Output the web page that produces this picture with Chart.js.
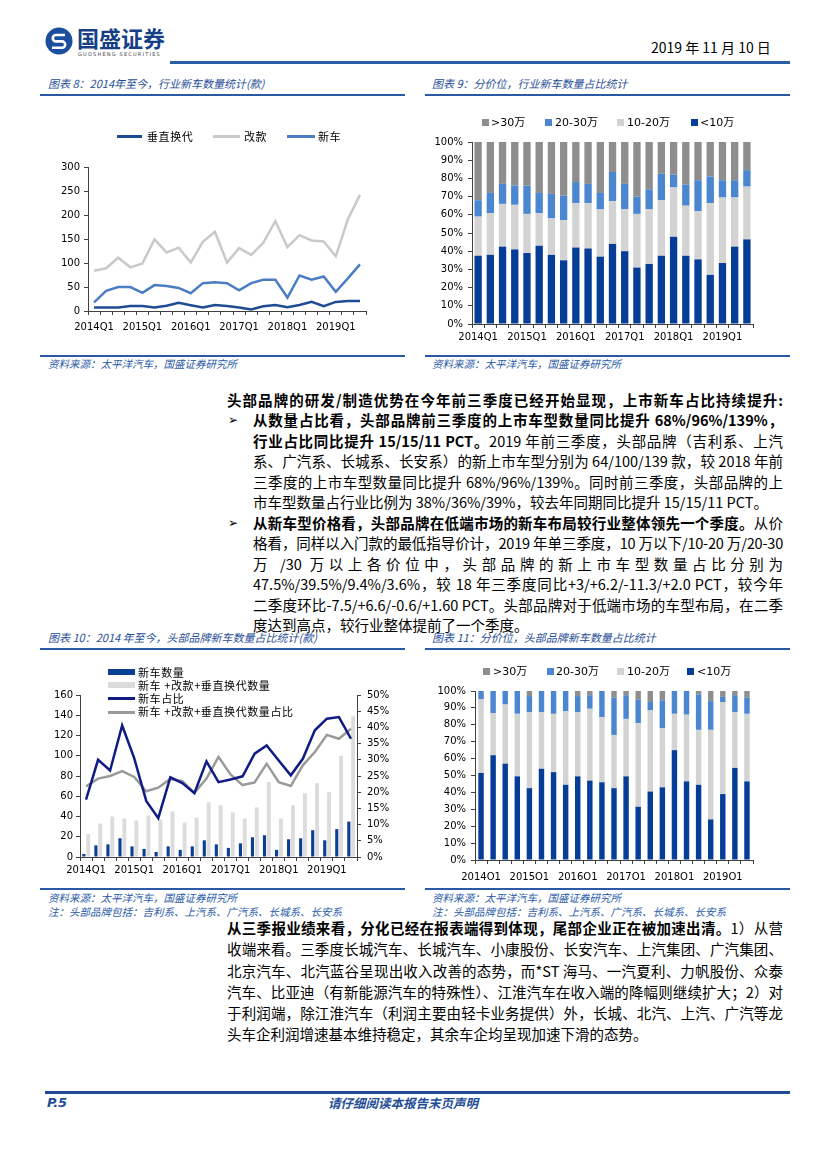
<!DOCTYPE html>
<html><head><meta charset="utf-8">
<script src="https://cdn.jsdelivr.net/npm/chart.js@4.4.0/dist/chart.umd.min.js"></script>
<style>
html,body{margin:0;padding:0;background:#fff;}
#page{position:relative;width:827px;height:1170px;overflow:hidden;font-family:"Noto Sans CJK SC","Noto Sans",sans-serif;color:#000;}
.title{position:absolute;font-size:11px;font-style:italic;color:#1F4E96;white-space:nowrap;line-height:14px;}
.rule{position:absolute;height:1.5px;background:#2A5AA6;}
.src{position:absolute;font-size:10.5px;font-style:italic;color:#2A5AA6;white-space:nowrap;line-height:13px;}
.ln{position:absolute;height:20px;line-height:20px;font-size:14.5px;text-align:justify;text-align-last:justify;}
.ln.last{text-align-last:left;}
.b{font-weight:bold;}
.bul{position:absolute;left:228px;font-family:"DejaVu Sans";font-size:12px;line-height:20px;}
.leg{position:absolute;font-size:11px;white-space:nowrap;line-height:13px;font-family:"DejaVu Sans","Noto Sans CJK SC",sans-serif;}
.legc{position:absolute;font-size:11px;white-space:nowrap;line-height:13px;letter-spacing:0.6px;font-family:"Noto Sans CJK SC",sans-serif;}
.sw{position:absolute;}
canvas{position:absolute;}
</style></head>
<body><div id="page">

<!-- header -->
<svg style="position:absolute;left:45px;top:27px" width="28" height="28" viewBox="0 0 28 28">
  <circle cx="14" cy="14" r="13.5" fill="#1B4F9E"/>
  <path d="M20 8 H11 a3.2 3.2 0 0 0 0 6.4 h6 a3.2 3.2 0 0 1 0 6.4 H7" stroke="#fff" stroke-width="2.6" fill="none"/>
</svg>
<div style="position:absolute;left:77px;top:24px;font-size:22px;font-weight:bold;color:#163F86;line-height:26px;white-space:nowrap;">国盛证券</div>
<div style="position:absolute;left:78px;top:51px;font-size:5px;letter-spacing:1.2px;color:#444;line-height:6px;white-space:nowrap;font-family:'DejaVu Sans';">GUOSHENG SECURITIES</div>
<div style="position:absolute;left:651px;top:38px;font-size:14px;line-height:18px;white-space:nowrap;">2019 年 11 月 10 日</div>
<div style="position:absolute;left:170px;top:61px;width:620px;height:2.5px;background:#2B5CA8;"></div>

<!-- chart titles -->
<div class="title" style="left:48px;top:76px;">图表 8：2014年至今，行业新车数量统计(款)</div>
<div class="rule" style="left:40px;top:94px;width:365px;"></div>
<div class="title" style="left:432px;top:76px;">图表 9：分价位，行业新车数量占比统计</div>
<div class="rule" style="left:425px;top:94px;width:365px;"></div>

<canvas id="c8" width="370" height="250" style="left:40px;top:100px;width:370px;height:250px;"></canvas>
<canvas id="c9" width="380" height="250" style="left:420px;top:100px;width:380px;height:250px;"></canvas>

<!-- chart 8 legend -->
<div class="sw" style="left:117px;top:135px;width:25px;height:3px;background:#1F4A94;"></div>
<div class="legc" style="left:147px;top:130px;">垂直换代</div>
<div class="sw" style="left:213px;top:135px;width:27px;height:3px;background:#C9C9C9;"></div>
<div class="legc" style="left:244px;top:130px;">改款</div>
<div class="sw" style="left:287px;top:135px;width:28px;height:3px;background:#4A7DC4;"></div>
<div class="legc" style="left:318px;top:130px;">新车</div>

<!-- chart 9 legend -->
<div class="sw" style="left:482px;top:119px;width:7px;height:7px;background:#8E8E8E;"></div>
<div class="leg" style="left:491px;top:116px;">&gt;30万</div>
<div class="sw" style="left:545px;top:119px;width:7px;height:7px;background:#4A87D0;"></div>
<div class="leg" style="left:555px;top:116px;">20-30万</div>
<div class="sw" style="left:617px;top:119px;width:7px;height:7px;background:#D3D3D3;"></div>
<div class="leg" style="left:627px;top:116px;">10-20万</div>
<div class="sw" style="left:691px;top:119px;width:7px;height:7px;background:#063D96;"></div>
<div class="leg" style="left:700px;top:116px;">&lt;10万</div>

<div class="rule" style="left:40px;top:355px;width:365px;"></div>
<div class="src" style="left:48px;top:357px;">资料来源：太平洋汽车，国盛证券研究所</div>
<div class="rule" style="left:425px;top:355px;width:365px;"></div>
<div class="src" style="left:432px;top:357px;">资料来源：太平洋汽车，国盛证券研究所</div>

<!-- text block 1 -->
<div class="ln b" style="left:227px;width:556px;top:390px;">头部品牌的研发/制造优势在今年前三季度已经开始显现，上市新车占比持续提升:</div>
<div class="bul" style="top:410px;">➢</div>
<div class="ln" style="left:253px;width:530px;top:410px;"><span class="b">从数量占比看，头部品牌前三季度的上市车型数量同比提升 68%/96%/139%，</span></div>
<div class="ln" style="left:253px;width:530px;top:431px;"><span class="b">行业占比同比提升 15/15/11 PCT。</span>2019 年前三季度，头部品牌（吉利系、上汽</div>
<div class="ln" style="left:253px;width:530px;top:451px;">系、广汽系、长城系、长安系）的新上市车型分别为 64/100/139 款，较 2018 年前</div>
<div class="ln" style="left:253px;width:530px;top:472px;">三季度的上市车型数量同比提升 68%/96%/139%。同时前三季度，头部品牌的上</div>
<div class="ln last" style="left:253px;width:530px;top:492px;">市车型数量占行业比例为 38%/36%/39%，较去年同期同比提升 15/15/11 PCT。</div>
<div class="bul" style="top:513px;">➢</div>
<div class="ln" style="left:253px;width:530px;top:513px;"><span class="b">从新车型价格看，头部品牌在低端市场的新车布局较行业整体领先一个季度。</span>从价</div>
<div class="ln" style="left:253px;width:530px;top:533px;">格看，同样以入门款的最低指导价计，2019 年单三季度，10 万以下/10-20 万/20-30</div>
<div class="ln" style="left:253px;width:530px;top:554px;">万 /30 万以上各价位中，头部品牌的新上市车型数量占比分别为</div>
<div class="ln" style="left:253px;width:530px;top:574px;">47.5%/39.5%/9.4%/3.6%，较 18 年三季度同比+3/+6.2/-11.3/+2.0 PCT，较今年</div>
<div class="ln" style="left:253px;width:530px;top:595px;">二季度环比-7.5/+6.6/-0.6/+1.60 PCT。头部品牌对于低端市场的车型布局，在二季</div>
<div class="ln last" style="left:253px;width:530px;top:615px;">度达到高点，较行业整体提前了一个季度。</div>

<!-- chart 10/11 titles -->
<div class="title" style="left:48px;top:630px;">图表 10：2014 年至今，头部品牌新车数量占比统计(款)</div>
<div class="rule" style="left:40px;top:648px;width:365px;"></div>
<div class="title" style="left:432px;top:630px;">图表 11：分价位，头部品牌新车数量占比统计</div>
<div class="rule" style="left:425px;top:648px;width:365px;"></div>

<canvas id="c10" width="370" height="230" style="left:40px;top:655px;width:370px;height:230px;"></canvas>
<canvas id="c11" width="380" height="230" style="left:420px;top:655px;width:380px;height:230px;"></canvas>

<!-- chart 10 legend -->
<div class="sw" style="left:108px;top:669px;width:27px;height:6px;background:#0B3F94;"></div>
<div class="legc" style="left:138px;top:666px;">新车数量</div>
<div class="sw" style="left:108px;top:682px;width:27px;height:6px;background:#DCDCDC;"></div>
<div class="legc" style="left:138px;top:679px;">新车 +改款+垂直换代数量</div>
<div class="sw" style="left:108px;top:697px;width:27px;height:3px;background:#101C84;"></div>
<div class="legc" style="left:138px;top:692px;">新车占比</div>
<div class="sw" style="left:108px;top:711px;width:27px;height:3px;background:#9A9A9A;"></div>
<div class="legc" style="left:138px;top:705px;">新车 +改款+垂直换代数量占比</div>

<!-- chart 11 legend -->
<div class="sw" style="left:483px;top:668px;width:7px;height:7px;background:#8E8E8E;"></div>
<div class="leg" style="left:493px;top:665px;">&gt;30万</div>
<div class="sw" style="left:547px;top:668px;width:7px;height:7px;background:#4A87D0;"></div>
<div class="leg" style="left:556px;top:665px;">20-30万</div>
<div class="sw" style="left:617px;top:668px;width:7px;height:7px;background:#D3D3D3;"></div>
<div class="leg" style="left:627px;top:665px;">10-20万</div>
<div class="sw" style="left:687px;top:668px;width:7px;height:7px;background:#063D96;"></div>
<div class="leg" style="left:697px;top:665px;">&lt;10万</div>

<div class="rule" style="left:40px;top:888px;width:365px;"></div>
<div class="src" style="left:48px;top:891px;">资料来源：太平洋汽车，国盛证券研究所</div>
<div class="src" style="left:48px;top:905px;">注：头部品牌包括：吉利系、上汽系、广汽系、长城系、长安系</div>
<div class="rule" style="left:425px;top:888px;width:365px;"></div>
<div class="src" style="left:432px;top:891px;">资料来源：太平洋汽车，国盛证券研究所</div>
<div class="src" style="left:432px;top:905px;">注：头部品牌包括：吉利系、上汽系、广汽系、长城系、长安系</div>

<!-- text block 2 -->
<div class="ln" style="left:227px;width:556px;top:918px;"><span class="b">从三季报业绩来看，分化已经在报表端得到体现，尾部企业正在被加速出清。</span>1）从营</div>
<div class="ln" style="left:227px;width:556px;top:939px;">收端来看。三季度长城汽车、长城汽车、小康股份、长安汽车、上汽集团、广汽集团、</div>
<div class="ln" style="left:227px;width:556px;top:961px;">北京汽车、北汽蓝谷呈现出收入改善的态势，而*ST 海马、一汽夏利、力帆股份、众泰</div>
<div class="ln" style="left:227px;width:556px;top:982px;">汽车、比亚迪（有新能源汽车的特殊性）、江淮汽车在收入端的降幅则继续扩大；2）对</div>
<div class="ln" style="left:227px;width:556px;top:1003px;">于利润端，除江淮汽车（利润主要由轻卡业务提供）外，长城、北汽、上汽、广汽等龙</div>
<div class="ln last" style="left:227px;width:556px;top:1024px;">头车企利润增速基本维持稳定，其余车企均呈现加速下滑的态势。</div>

<!-- footer -->
<div style="position:absolute;left:45px;top:1091px;width:745px;height:2.5px;background:#1F4E96;"></div>
<div style="position:absolute;left:47px;top:1095px;font-size:13px;font-weight:bold;font-style:italic;color:#1F4E96;line-height:16px;font-family:'DejaVu Sans';">P.5</div>
<div style="position:absolute;left:328px;top:1095px;font-size:12.5px;font-weight:bold;font-style:italic;color:#1F4E96;line-height:16px;white-space:nowrap;">请仔细阅读本报告末页声明</div>

</div>
<script>
// ---- data ----
const quarters = ['2014Q1','2014Q2','2014Q3','2014Q4','2015Q1','2015Q2','2015Q3','2015Q4','2016Q1','2016Q2','2016Q3','2016Q4','2017Q1','2017Q2','2017Q3','2017Q4','2018Q1','2018Q2','2018Q3','2018Q4','2019Q1','2019Q2','2019Q3'];
const shownQuarters = ['2014Q1','2015Q1','2016Q1','2017Q1','2018Q1','2019Q1'];

// Chart 8: industry new models (count)
const industryVertical = [7.5,7.5,7.5,10.5,10.5,7.5,11,17,12,7.5,12.5,10.5,7.5,3,10,12.5,8,12.5,19,10,19,21,21];
const industryFacelift = [84,89,111,91,99,149,122,132,101,144,165,101,131,117,142,187,133,158,147,145,114,191,242];
const industryNew      = [18,42,50,50,38,54,52,48,37,58,60,58,43,58,65,65,28,74,65,72,40,68,97];

// Chart 9: industry share by price band (%)
const industryBelow10 = [37.5,38,42.5,41,39,43,38,35,42,41.5,37,44,40,31,33,37.5,48,37.5,35.5,27,33.5,42.5,46.5];
const industry10to20  = [21.5,23,23.5,24.5,21.5,18,20,22,24.5,25,26,23.5,23,29.5,30,30.5,27,27.5,26.5,39.5,36,27,29];
const industry20to30  = [9,11,11,10.5,15.5,11,13.5,13.5,11.5,10.5,9,16,14,9.5,11,14.5,7,11.5,17,14.5,9.5,9.5,9];
const industryAbove30 = [32,28,23,24,24,28,28.5,29.5,22,23,28,16.5,23,30,26,17.5,18,23.5,21,19,21,21,15.5];

// Chart 10: head brands counts and shares
const headNewCount   = [3,11.5,12.5,18.5,10.5,8,5,10.5,7,10.5,16.5,12.5,9,13.5,19.5,21.5,7,17.5,18.5,26.5,16.5,27.5,35];
const headTotalCount = [23,33,40,38,36,41,37,45,34,39,54,51,44,38,49,74,38,51,63,73,64,100,139];
const headNewShare   = [17.7,30,26.7,40.6,30.5,17.3,12,24.6,22.8,19.7,29.5,23.1,23.9,24.9,31.9,34.4,29.8,25.2,30.3,39.1,42.7,43.2,36.5];
const headTotalShare = [21.8,24.2,25,26.5,24.7,20.3,21.4,24.1,23.4,19.8,24.2,30.9,25.5,22.2,23,28.8,23.1,21.9,28.3,32.4,37.7,36.5,39.6];

// Chart 11: head brands share by price band (%)
const headBelow10 = [51.5,62,57,49.5,42.5,54,52,44.5,49.5,47,46,42.5,49.5,31.5,40.5,43,65,46.5,44.5,24,39,54.5,46.5];
const head10to20  = [43.5,25,35,37,45,33.5,34.5,43.5,38,42.5,38.5,31.5,34,49.5,48,35,21.5,39.5,32.5,53,54.5,33,40];
const head20to30  = [5,13,8,13.5,9.5,12.5,13.5,12,9.5,8,15.5,22,14,14,5,16.5,13.5,14,21,17,3,10,9.5];
const headAbove30 = [0,0,0,0,3,0,0,0,3,2.5,0,4,2.5,5,6.5,5.5,0,0,2,6,3.5,2.5,4];

// ---- colors ----
const C_DARK = '#063D96', C_LGREY = '#D3D3D3', C_MBLUE = '#4A87D0', C_DGREY = '#8E8E8E';
const AX = '#404040';

Chart.defaults.font.family = "'DejaVu Sans','Noto Sans CJK SC',sans-serif";
Chart.defaults.font.size = 10;
Chart.defaults.color = '#000';
Chart.defaults.animation = false;

function catAxis(pad, extra) {
  return Object.assign({
    type: 'category', offset: true,
    grid: {display: true, offset: true, drawOnChartArea: false, drawTicks: true, tickLength: 4, color: AX, lineWidth: 1},
    border: {display: true, color: AX, width: 1},
    ticks: {autoSkip: false, maxRotation: 0, minRotation: 0, padding: pad, color: '#000',
      callback: function (v) { const l = this.getLabelForValue(v); return shownQuarters.includes(l) ? l : ''; }},
    afterFit: function (s) { s.height = 20; }
  }, extra || {});
}
function valAxis(min, max, step, suffix, w, pad, extra) {
  return Object.assign({
    min: min, max: max,
    grid: {display: true, drawOnChartArea: false, drawTicks: true, tickLength: 4, color: AX},
    border: {display: true, color: AX, width: 1},
    ticks: {stepSize: step, padding: pad, color: '#000', callback: v => v + suffix},
    afterFit: function (s) { s.width = w; }
  }, extra || {});
}
const noPlug = {legend: {display: false}, tooltip: {enabled: false}};

function lineDs(label, data, color, extra) {
  return Object.assign({type: 'line', label: label, data: data, borderColor: color, backgroundColor: color,
    borderWidth: 2.5, pointRadius: 0, tension: 0, fill: false}, extra || {});
}

// Chart 8
new Chart(document.getElementById('c8'), {
  type: 'line',
  data: {labels: quarters, datasets: [
    lineDs('垂直换代', industryVertical, '#1F4A94'),
    lineDs('改款', industryFacelift, '#C9C9C9'),
    lineDs('新车', industryNew, '#4A7DC4')
  ]},
  options: {responsive: false, animation: false,
    layout: {padding: {top: 67, right: 44, bottom: 19, left: 0}},
    plugins: noPlug,
    scales: {x: catAxis(6), y: valAxis(0, 300, 50, '', 48, 4)}}
});

function stackDs(label, data, color) {
  return {label: label, data: data, backgroundColor: color, borderWidth: 0,
    categoryPercentage: 1, barPercentage: 0.6};
}

// Chart 9
new Chart(document.getElementById('c9'), {
  type: 'bar',
  data: {labels: quarters, datasets: [
    stackDs('<10万', industryBelow10, C_DARK),
    stackDs('10-20万', industry10to20, C_LGREY),
    stackDs('20-30万', industry20to30, C_MBLUE),
    stackDs('>30万', industryAbove30, C_DGREY)
  ]},
  options: {responsive: false, animation: false,
    layout: {padding: {top: 42, right: 47, bottom: 6, left: 0}},
    plugins: noPlug,
    scales: {x: catAxis(3, {stacked: true}), y: valAxis(0, 100, 10, '%', 52, 5, {stacked: true})}}
});

// Chart 10
new Chart(document.getElementById('c10'), {
  type: 'bar',
  data: {labels: quarters, datasets: [
    {type: 'bar', label: '新车数量', data: headNewCount, backgroundColor: '#0B3F94', borderWidth: 0,
      categoryPercentage: 0.72, barPercentage: 0.72, yAxisID: 'y', order: 2},
    {type: 'bar', label: '新车+改款+垂直换代数量', data: headTotalCount, backgroundColor: '#DCDCDC', borderWidth: 0,
      categoryPercentage: 0.72, barPercentage: 0.9, yAxisID: 'y', order: 2},
    lineDs('新车占比', headNewShare, '#101C84', {yAxisID: 'y1', order: 0}),
    lineDs('新车+改款+垂直换代数量占比', headTotalShare, '#9A9A9A', {yAxisID: 'y1', order: 1})
  ]},
  options: {responsive: false, animation: false,
    layout: {padding: {top: 40, right: 13, bottom: 8, left: 0}},
    plugins: noPlug,
    scales: {
      x: catAxis(3),
      y: valAxis(0, 160, 20, '', 40, 3, {position: 'left'}),
      y1: valAxis(0, 50, 5, '%', 40, 6, {position: 'right'})
    }}
});

// Chart 11
new Chart(document.getElementById('c11'), {
  type: 'bar',
  data: {labels: quarters, datasets: [
    Object.assign(stackDs('<10万', headBelow10, C_DARK), {barPercentage: 0.45}),
    Object.assign(stackDs('10-20万', head10to20, C_LGREY), {barPercentage: 0.45}),
    Object.assign(stackDs('20-30万', head20to30, C_MBLUE), {barPercentage: 0.45}),
    Object.assign(stackDs('>30万', headAbove30, C_DGREY), {barPercentage: 0.45})
  ]},
  options: {responsive: false, animation: false,
    layout: {padding: {top: 36, right: 47, bottom: 5, left: 0}},
    plugins: noPlug,
    scales: {x: catAxis(7, {stacked: true}), y: valAxis(0, 100, 10, '%', 55, 5, {stacked: true})}}
});

// fit justified text lines onto one line each
function fitLines() {
  document.querySelectorAll('.ln').forEach(el => {
    let ls = 0;
    while (el.scrollHeight > 24 && ls > -2) {
      ls -= 0.1;
      el.style.letterSpacing = ls.toFixed(2) + 'px';
    }
  });
}
if (document.fonts && document.fonts.ready) { document.fonts.ready.then(fitLines); } else { fitLines(); }
fitLines();
</script>
</body></html>
